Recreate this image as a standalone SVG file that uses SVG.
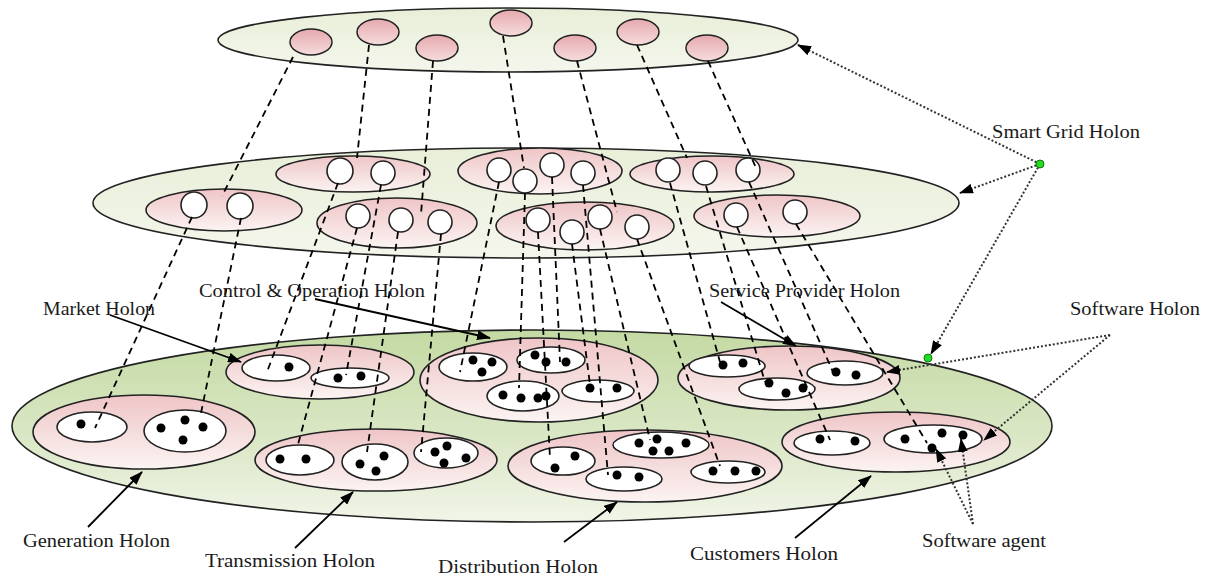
<svg xmlns="http://www.w3.org/2000/svg" width="1207" height="577" viewBox="0 0 1207 577">
<defs>
<linearGradient id="gPale" x1="0" y1="0" x2="0" y2="1"><stop offset="0" stop-color="#e8efd8"/><stop offset="1" stop-color="#f4f6ec"/></linearGradient>
<linearGradient id="gGreen" x1="0" y1="0" x2="0" y2="1"><stop offset="0" stop-color="#c4daa3"/><stop offset="0.6" stop-color="#dce8c8"/><stop offset="1" stop-color="#f1f5e8"/></linearGradient>
<linearGradient id="gPink" x1="0" y1="0" x2="0" y2="1"><stop offset="0" stop-color="#efc5c7"/><stop offset="1" stop-color="#fbf4f2"/></linearGradient>
<linearGradient id="gRose" x1="0" y1="0" x2="0" y2="1"><stop offset="0" stop-color="#e5a9ae"/><stop offset="1" stop-color="#f6dcdc"/></linearGradient>
<marker id="ah" viewBox="0 0 14 10" refX="13" refY="5" markerWidth="14" markerHeight="10" markerUnits="userSpaceOnUse" orient="auto"><path d="M0,0 L14,5 L0,10 z" fill="#000"/></marker>
</defs>
<style>
.big{stroke:#222;stroke-width:1.6}
.hol{fill:url(#gPink);stroke:#222;stroke-width:1.6}
.rc{fill:url(#gRose);stroke:#222;stroke-width:1.5}
.wc{fill:#fff;stroke:#222;stroke-width:1.6}
.dot{fill:#000}
.dash{stroke:#000;stroke-width:1.8;stroke-dasharray:7 5;fill:none}
.solid{stroke:#000;stroke-width:1.8;fill:none;marker-end:url(#ah)}
.dotla{stroke:#333;stroke-width:2;stroke-dasharray:2 2;fill:none;marker-end:url(#ah)}
.gdot{fill:#22dd22;stroke:#117711;stroke-width:1}
text{font-family:"Liberation Serif","Times New Roman",serif;font-size:19px;fill:#1a1a1a}
</style>

<g id="top-layer">
<ellipse class="big" cx="508" cy="40" rx="290" ry="32" fill="url(#gPale)"/>
<ellipse class="rc" cx="311" cy="42" rx="21" ry="13"/>
<ellipse class="rc" cx="378" cy="32" rx="21" ry="13"/>
<ellipse class="rc" cx="437" cy="48" rx="21" ry="13"/>
<ellipse class="rc" cx="511" cy="23" rx="21" ry="13"/>
<ellipse class="rc" cx="575" cy="48" rx="21" ry="13"/>
<ellipse class="rc" cx="638" cy="32" rx="21" ry="13"/>
<ellipse class="rc" cx="707" cy="48" rx="21" ry="13"/>
</g>

<g id="middle-layer">
<ellipse class="big" cx="526" cy="203" rx="433" ry="55" fill="url(#gPale)"/>
<g id="mid-a"><ellipse class="hol" cx="224" cy="210" rx="78" ry="21"/><circle class="wc" cx="194" cy="205" r="13"/><circle class="wc" cx="240" cy="206" r="13"/></g>
<g id="mid-b"><ellipse class="hol" cx="353" cy="174" rx="77" ry="18"/><circle class="wc" cx="340" cy="171" r="13"/><circle class="wc" cx="383" cy="173" r="12"/></g>
<g id="mid-c"><ellipse class="hol" cx="397" cy="223" rx="80" ry="25"/><circle class="wc" cx="358" cy="216" r="12"/><circle class="wc" cx="401" cy="220" r="12"/><circle class="wc" cx="440" cy="222" r="12"/></g>
<g id="mid-d"><ellipse class="hol" cx="540" cy="171" rx="82" ry="23"/><circle class="wc" cx="499" cy="170" r="12"/><circle class="wc" cx="525" cy="181" r="12"/><circle class="wc" cx="552" cy="165" r="12"/><circle class="wc" cx="583" cy="173" r="12"/></g>
<g id="mid-e"><ellipse class="hol" cx="585" cy="226" rx="89" ry="24"/><circle class="wc" cx="538" cy="220" r="12"/><circle class="wc" cx="572" cy="232" r="12"/><circle class="wc" cx="600" cy="217" r="12"/><circle class="wc" cx="637" cy="227" r="12"/></g>
<g id="mid-f"><ellipse class="hol" cx="712" cy="174" rx="82" ry="18"/><circle class="wc" cx="668" cy="170" r="12"/><circle class="wc" cx="705" cy="173" r="12"/><circle class="wc" cx="748" cy="170" r="12"/></g>
<g id="mid-g"><ellipse class="hol" cx="777" cy="216" rx="83" ry="21"/><circle class="wc" cx="736" cy="215" r="12"/><circle class="wc" cx="795" cy="212" r="12"/></g>
</g>

<g id="bottom-layer">
<ellipse class="big" cx="532" cy="426" rx="520" ry="96" fill="url(#gGreen)"/>
<g id="generation-holon"><ellipse class="hol" cx="144" cy="432" rx="111" ry="37"/>
<ellipse class="wc" cx="92" cy="427" rx="35" ry="15"/><circle class="dot" cx="81" cy="424" r="4.5"/>
<ellipse class="wc" cx="185" cy="431" rx="41" ry="21"/><circle class="dot" cx="161" cy="428" r="4.5"/><circle class="dot" cx="185" cy="420" r="4.5"/><circle class="dot" cx="203" cy="427" r="4.5"/><circle class="dot" cx="183" cy="440" r="4.5"/></g>
<g id="market-holon"><ellipse class="hol" cx="320" cy="372" rx="94" ry="27"/>
<ellipse class="wc" cx="276" cy="368" rx="34" ry="13"/><circle class="dot" cx="289" cy="367" r="4.5"/>
<ellipse class="wc" cx="350" cy="378" rx="39" ry="10"/><circle class="dot" cx="338" cy="378" r="4.5"/><circle class="dot" cx="361" cy="376" r="4.5"/></g>
<g id="transmission-holon"><ellipse class="hol" cx="376" cy="460" rx="121" ry="31"/>
<ellipse class="wc" cx="300" cy="460" rx="34" ry="15"/><circle class="dot" cx="280" cy="459" r="4.5"/><circle class="dot" cx="306" cy="459" r="4.5"/>
<ellipse class="wc" cx="375" cy="462" rx="33" ry="18"/><circle class="dot" cx="360" cy="464" r="4.5"/><circle class="dot" cx="384" cy="456" r="4.5"/><circle class="dot" cx="376" cy="471" r="4.5"/>
<ellipse class="wc" cx="446" cy="453" rx="32" ry="15"/><circle class="dot" cx="435" cy="452" r="4.5"/><circle class="dot" cx="447" cy="446" r="4.5"/><circle class="dot" cx="444" cy="463" r="4.5"/><circle class="dot" cx="466" cy="458" r="4.5"/></g>
<g id="control-operation-holon"><ellipse class="hol" cx="539" cy="380" rx="119" ry="42"/>
<ellipse class="wc" cx="473" cy="367" rx="34" ry="14"/><circle class="dot" cx="473" cy="360" r="4.5"/><circle class="dot" cx="492" cy="362" r="4.5"/><circle class="dot" cx="482" cy="372" r="4.5"/>
<ellipse class="wc" cx="551" cy="360" rx="34" ry="13"/><circle class="dot" cx="535" cy="355" r="4.5"/><circle class="dot" cx="546" cy="362" r="4.5"/><circle class="dot" cx="566" cy="362" r="4.5"/>
<ellipse class="wc" cx="523" cy="396" rx="36" ry="15"/><circle class="dot" cx="503" cy="395" r="4.5"/><circle class="dot" cx="521" cy="398" r="4.5"/><circle class="dot" cx="538" cy="398" r="4.5"/><circle class="dot" cx="546" cy="396" r="4.5"/>
<ellipse class="wc" cx="598" cy="391" rx="36" ry="11"/><circle class="dot" cx="590" cy="388" r="4.5"/><circle class="dot" cx="617" cy="388" r="4.5"/></g>
<g id="distribution-holon"><ellipse class="hol" cx="645" cy="466" rx="137" ry="36"/>
<ellipse class="wc" cx="563" cy="461" rx="32" ry="14"/><circle class="dot" cx="575" cy="456" r="4.5"/><circle class="dot" cx="555" cy="468" r="4.5"/>
<ellipse class="wc" cx="624" cy="479" rx="38" ry="12"/><circle class="dot" cx="617" cy="475" r="4.5"/><circle class="dot" cx="639" cy="477" r="4.5"/>
<ellipse class="wc" cx="661" cy="445" rx="48" ry="13"/><circle class="dot" cx="639" cy="443" r="4.5"/><circle class="dot" cx="657" cy="439" r="4.5"/><circle class="dot" cx="653" cy="451" r="4.5"/><circle class="dot" cx="669" cy="451" r="4.5"/><circle class="dot" cx="686" cy="443" r="4.5"/>
<ellipse class="wc" cx="728" cy="472" rx="37" ry="11"/><circle class="dot" cx="713" cy="471" r="4.5"/><circle class="dot" cx="735" cy="471" r="4.5"/><circle class="dot" cx="756" cy="471" r="4.5"/></g>
<g id="service-provider-holon"><ellipse class="hol" cx="789" cy="378" rx="111" ry="32"/>
<ellipse class="wc" cx="727" cy="366" rx="38" ry="11"/><circle class="dot" cx="723" cy="365" r="4.5"/><circle class="dot" cx="743" cy="363" r="4.5"/>
<ellipse class="wc" cx="777" cy="389" rx="38" ry="11"/><circle class="dot" cx="769" cy="383" r="4.5"/><circle class="dot" cx="786" cy="393" r="4.5"/><circle class="dot" cx="803" cy="388" r="4.5"/>
<ellipse class="wc" cx="845" cy="373" rx="38" ry="12"/><circle class="dot" cx="836" cy="372" r="4.5"/><circle class="dot" cx="856" cy="375" r="4.5"/></g>
<g id="customers-holon"><ellipse class="hol" cx="896" cy="442" rx="114" ry="30"/>
<ellipse class="wc" cx="832" cy="443" rx="38" ry="12"/><circle class="dot" cx="820" cy="439" r="4.5"/><circle class="dot" cx="855" cy="441" r="4.5"/>
<ellipse class="wc" cx="933" cy="439" rx="49" ry="14"/><circle class="dot" cx="905" cy="439" r="4.5"/><circle class="dot" cx="942" cy="433" r="4.5"/><circle class="dot" cx="963" cy="435" r="4.5"/><circle class="dot" cx="932" cy="448" r="4.5"/></g>
</g>

<g id="connectors">
<line class="dash" x1="293" y1="57" x2="222" y2="196"/>
<line class="dash" x1="369" y1="45" x2="357" y2="158"/>
<line class="dash" x1="433" y1="61" x2="421" y2="214"/>
<line class="dash" x1="503" y1="36" x2="524" y2="168"/>
<line class="dash" x1="577" y1="61" x2="617" y2="212"/>
<line class="dash" x1="637" y1="45" x2="687" y2="158"/>
<line class="dash" x1="708" y1="61" x2="757" y2="170"/>
<line class="dash" x1="192" y1="217" x2="95" y2="428"/>
<line class="dash" x1="241" y1="218" x2="201" y2="413"/>
<line class="dash" x1="338" y1="183" x2="267" y2="372"/>
<line class="dash" x1="381" y1="185" x2="346" y2="375"/>
<line class="dash" x1="357" y1="228" x2="297" y2="448"/>
<line class="dash" x1="398" y1="232" x2="367" y2="452"/>
<line class="dash" x1="441" y1="234" x2="421" y2="452"/>
<line class="dash" x1="499" y1="182" x2="460" y2="372"/>
<line class="dash" x1="525" y1="193" x2="519" y2="388"/>
<line class="dash" x1="552" y1="177" x2="560" y2="362"/>
<line class="dash" x1="538" y1="232" x2="550" y2="458"/>
<line class="dash" x1="572" y1="244" x2="590" y2="385"/>
<line class="dash" x1="583" y1="185" x2="608" y2="475"/>
<line class="dash" x1="600" y1="229" x2="650" y2="440"/>
<line class="dash" x1="637" y1="239" x2="720" y2="466"/>
<line class="dash" x1="670" y1="183" x2="720" y2="362"/>
<line class="dash" x1="706" y1="186" x2="765" y2="382"/>
<line class="dash" x1="737" y1="227" x2="830" y2="440"/>
<line class="dash" x1="749" y1="182" x2="833" y2="372"/>
<line class="dash" x1="796" y1="224" x2="927" y2="443"/>

<line class="solid" x1="110" y1="315" x2="241" y2="362"/>
<line class="solid" x1="315" y1="299" x2="490" y2="338"/>
<line class="solid" x1="721" y1="302" x2="796" y2="346"/>
<line class="solid" x1="88" y1="527" x2="142" y2="472"/>
<line class="solid" x1="295" y1="548" x2="353" y2="492"/>
<line class="solid" x1="564" y1="542" x2="617" y2="502"/>
<line class="solid" x1="795" y1="538" x2="871" y2="476"/>

<line class="dotla" x1="1040" y1="164" x2="798" y2="45"/>
<line class="dotla" x1="1040" y1="164" x2="960" y2="193"/>
<line class="dotla" x1="1040" y1="164" x2="931" y2="354"/>
<line class="dotla" x1="1110" y1="335" x2="887" y2="372"/>
<line class="dotla" x1="1110" y1="335" x2="984" y2="440"/>
<line class="dotla" x1="973" y1="524" x2="936" y2="449"/>
<line class="dotla" x1="973" y1="524" x2="961" y2="439"/>
<circle class="gdot" cx="1040" cy="164" r="4"/>
<circle class="gdot" cx="928" cy="358" r="4"/>
</g>

<g id="labels">
<text x="992" y="138" textLength="148" lengthAdjust="spacingAndGlyphs">Smart Grid Holon</text>
<text x="43" y="315" textLength="112" lengthAdjust="spacingAndGlyphs">Market Holon</text>
<text x="199" y="297" textLength="226" lengthAdjust="spacingAndGlyphs">Control &amp; Operation Holon</text>
<text x="709" y="297" textLength="191" lengthAdjust="spacingAndGlyphs">Service Provider Holon</text>
<text x="1070" y="315" textLength="130" lengthAdjust="spacingAndGlyphs">Software Holon</text>
<text x="23" y="547" textLength="147" lengthAdjust="spacingAndGlyphs">Generation Holon</text>
<text x="205" y="567" textLength="170" lengthAdjust="spacingAndGlyphs">Transmission Holon</text>
<text x="438" y="573" textLength="160" lengthAdjust="spacingAndGlyphs">Distribution Holon</text>
<text x="690" y="560" textLength="148" lengthAdjust="spacingAndGlyphs">Customers Holon</text>
<text x="922" y="547" textLength="124" lengthAdjust="spacingAndGlyphs">Software agent</text>
</g>
</svg>
